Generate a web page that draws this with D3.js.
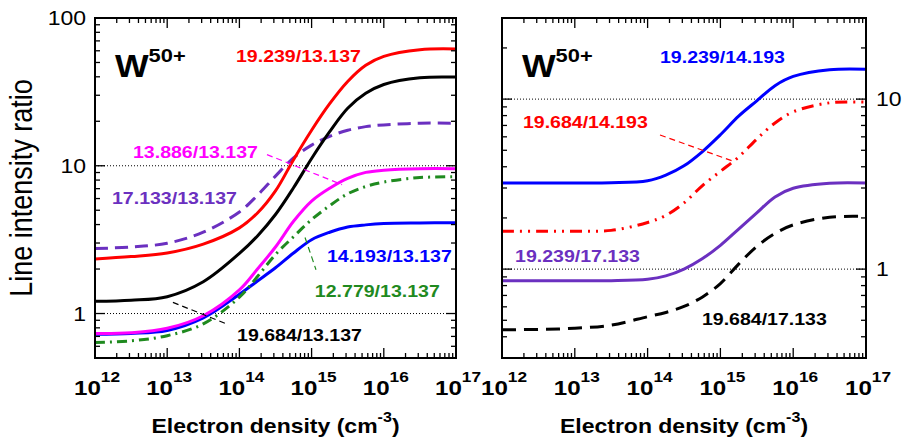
<!DOCTYPE html>
<html lang="en">
<head>
<meta charset="utf-8">
<title>W50+ line intensity ratios</title>
<script src="https://d3js.org/d3.v7.min.js"></script>
<style>
body { margin: 0; background: #fff; }
text { font-family: "Liberation Sans", Arial, Helvetica, sans-serif; fill: #000; }
</style>
</head>
<body>
<script>
// electron density grid (cm^-3), shared by every curve
var density = [1e12, 3.16e12, 1e13, 3.16e13, 1e14, 1.78e14, 3.16e14, 5.62e14, 1e15, 1.78e15, 3.16e15, 5.62e15, 1e16, 3.16e16, 1e17];

// left panel: ratios against the 13.137 line
var r19239_13137 = [2.34, 2.43, 2.57, 2.95, 3.80, 4.79, 6.76, 11.0, 17.4, 26.3, 37.2, 47.9, 55.0, 61.0, 61.7];
var r19684_13137 = [1.21, 1.23, 1.30, 1.64, 2.55, 3.35, 4.68, 7.1, 11.2, 17.0, 24.5, 30.9, 35.5, 39.4, 39.8];
var r17133_13137 = [2.75, 2.82, 2.99, 3.55, 4.87, 6.31, 8.51, 11.3, 13.8, 15.8, 17.4, 18.4, 18.9, 19.4, 19.4];
var r13886_13137 = [0.733, 0.741, 0.794, 0.966, 1.445, 2.0, 2.82, 4.21, 5.77, 7.05, 8.22, 9.02, 9.33, 9.55, 9.55];
var r12779_13137 = [0.637, 0.653, 0.708, 0.851, 1.29, 1.78, 2.51, 3.31, 4.32, 5.37, 6.46, 7.24, 7.76, 8.32, 8.43];
var r14193_13137 = [0.724, 0.733, 0.767, 0.933, 1.35, 1.66, 2.04, 2.57, 3.16, 3.55, 3.85, 3.98, 4.06, 4.10, 4.12];

// right panel: ratios against 14.193 and 17.133
var r19239_14193 = [3.21, 3.21, 3.21, 3.22, 3.31, 3.57, 4.05, 4.90, 6.17, 7.94, 9.77, 12.0, 13.6, 14.9, 15.0];
var r19684_14193 = [1.67, 1.67, 1.67, 1.69, 1.88, 2.07, 2.45, 3.09, 3.76, 4.57, 5.82, 7.24, 8.41, 9.51, 9.59];
var r19239_17133 = [0.855, 0.855, 0.855, 0.855, 0.871, 0.912, 1.0, 1.15, 1.38, 1.72, 2.14, 2.66, 2.99, 3.20, 3.21];
var r19684_17133 = [0.440, 0.442, 0.449, 0.468, 0.525, 0.556, 0.603, 0.684, 0.822, 1.07, 1.36, 1.62, 1.82, 2.02, 2.04];

// tick labels
var xTickExp = ["12", "13", "14", "15", "16", "17"];
var yTicksLeft = [1, 10, 100];
var yTicksRight = [1, 10];

var w = 904, h = 439;
var SX = 1.15; // text in the figure is a bit wide

var purple = "#6b30c0", green = "#1f8a1f";

var panels = [
  {
    range: [95, 456], yDomain: [0.5, 100], yTicks: yTicksLeft, labelSide: "left",
    series: [
      { v: r14193_13137, color: "blue", dash: null },
      { v: r12779_13137, color: green, dash: "10,5,2,5" },
      { v: r13886_13137, color: "#ff00ff", dash: null },
      { v: r17133_13137, color: purple, dash: "13,7" },
      { v: r19684_13137, color: "black", dash: null },
      { v: r19239_13137, color: "red", dash: null }
    ],
    labels: [
      { t: "19.239/13.137", color: "red", at: [8.97e13, 50.5] },
      { t: "13.886/13.137", color: "#ff00ff", at: [3.36e12, 11.3] },
      { t: "17.133/13.137", color: purple, at: [1.72e12, 5.53] },
      { t: "14.193/13.137", color: "blue", at: [1.63e15, 2.24] },
      { t: "12.779/13.137", color: green, at: [1.11e15, 1.30] },
      { t: "19.684/13.137", color: "black", at: [9.27e13, 0.647] }
    ],
    leaders: [
      { color: "#ff00ff", from: [2.41e14, 11.9], to: [2.64e15, 7.45] },
      { color: green, from: [8.11e14, 3.27], to: [1.15e15, 1.98] },
      { color: "black", from: [1.20e13, 1.19], to: [6.95e13, 0.843] }
    ],
    ion: [1.89e12, 39.9]
  },
  {
    range: [502, 866], yDomain: [0.3, 30], yTicks: yTicksRight, labelSide: "right",
    series: [
      { v: r19684_17133, color: "black", dash: "14,8" },
      { v: r19239_17133, color: purple, dash: null },
      { v: r19684_14193, color: "red", dash: "12,6,2,6,2,6" },
      { v: r19239_14193, color: "blue", dash: null }
    ],
    labels: [
      { t: "19.239/14.193", color: "blue", at: [1.48e14, 16.3] },
      { t: "19.684/14.193", color: "red", at: [1.94e12, 6.76] },
      { t: "19.239/17.133", color: purple, at: [1.51e12, 1.10] },
      { t: "19.684/17.133", color: "black", at: [5.58e14, 0.471] }
    ],
    leaders: [
      { color: "red", from: [1.48e14, 6.15], to: [1.44e15, 4.34] }
    ],
    ion: [1.88e12, 13.5]
  }
];

var svg = d3.select("body").append("svg")
  .attr("width", w)
  .attr("height", h);

var yTop = 18, yBottom = 358;

function addText(g, x, y, anchor, size, weight) {
  return g.append("text")
    .attr("transform", "translate(" + x + "," + y + ") scale(" + SX + ",1)")
    .attr("text-anchor", anchor)
    .style("font-size", size + "px")
    .style("font-weight", weight);
}

// minor tick values for a log domain
function minorTicks(lo, hi) {
  var out = [];
  for (var d = Math.floor(Math.log10(lo)); d <= Math.ceil(Math.log10(hi)); d++) {
    for (var m = 2; m <= 9; m++) {
      var v = m * Math.pow(10, d);
      if (v > lo * 1.0001 && v < hi * 0.9999) out.push(v);
    }
  }
  return out;
}

panels.forEach(function(p, pi) {
  var x = d3.scaleLog().domain([1e12, 1e17]).range(p.range);
  var y = d3.scaleLog().domain(p.yDomain).range([yBottom, yTop]);
  var g = svg.append("g");
  var x0 = p.range[0], x1 = p.range[1];

  // dotted lines at 1 and 10
  g.selectAll(".grid")
    .data([1, 10])
    .enter().append("line")
    .attr("x1", x0).attr("x2", x1)
    .attr("y1", function(d) { return y(d); })
    .attr("y2", function(d) { return y(d); })
    .attr("stroke", "black")
    .attr("stroke-width", 1)
    .attr("stroke-dasharray", "1,2");

  // clip for curves
  svg.append("clipPath").attr("id", "clip" + pi)
    .append("rect").attr("x", x0).attr("y", yTop).attr("width", x1 - x0).attr("height", yBottom - yTop);

  var line = d3.line()
    .x(function(d) { return x(d[0]); })
    .y(function(d) { return y(d[1]); })
    .curve(d3.curveCatmullRom.alpha(0.5));

  p.series.forEach(function(s) {
    g.append("path")
      .datum(d3.zip(density, s.v))
      .attr("clip-path", "url(#clip" + pi + ")")
      .attr("d", line)
      .attr("fill", "none")
      .attr("stroke", s.color)
      .attr("stroke-width", 3)
      .attr("stroke-dasharray", s.dash);
  });

  // leader lines
  p.leaders.forEach(function(l) {
    g.append("line")
      .attr("x1", x(l.from[0])).attr("y1", y(l.from[1]))
      .attr("x2", x(l.to[0])).attr("y2", y(l.to[1]))
      .attr("stroke", l.color)
      .attr("stroke-width", 1.2)
      .attr("stroke-dasharray", "6,4");
  });

  // ticks, inward on all four sides
  var xMajor = d3.range(12, 18).map(function(e) { return Math.pow(10, e); });
  var xMinor = minorTicks(1e12, 1e17);
  var yMajor = p.yTicks;
  var yMinor = minorTicks(p.yDomain[0], p.yDomain[1]);
  var ticks = g.append("g").attr("stroke", "black").attr("stroke-width", 1.3);
  xMajor.concat(xMinor).forEach(function(v) {
    var len = xMajor.indexOf(v) >= 0 ? 10 : 5;
    ticks.append("line").attr("x1", x(v)).attr("x2", x(v)).attr("y1", yBottom).attr("y2", yBottom - len);
    ticks.append("line").attr("x1", x(v)).attr("x2", x(v)).attr("y1", yTop).attr("y2", yTop + len);
  });
  yMajor.concat(yMinor).forEach(function(v) {
    var len = yMajor.indexOf(v) >= 0 ? 10 : 5;
    ticks.append("line").attr("y1", y(v)).attr("y2", y(v)).attr("x1", x0).attr("x2", x0 + len);
    ticks.append("line").attr("y1", y(v)).attr("y2", y(v)).attr("x1", x1).attr("x2", x1 - len);
  });

  // frame
  g.append("rect")
    .attr("x", x0).attr("y", yTop)
    .attr("width", x1 - x0).attr("height", yBottom - yTop)
    .attr("fill", "none")
    .attr("stroke", "black")
    .attr("stroke-width", 2);

  // x tick labels
  xTickExp.forEach(function(e) {
    var t = addText(g, x(Math.pow(10, +e)) + 2, 395, "middle", 21, "bold");
    t.append("tspan").text("10");
    t.append("tspan").attr("dy", -13).style("font-size", "15px").text(e);
  });

  // y tick labels
  yMajor.forEach(function(v) {
    if (p.labelSide == "left") {
      addText(g, 86, y(v) + 7, "end", 20, "normal").text(v);
    } else {
      addText(g, 876, y(v) + 7, "start", 20, "normal").text(v);
    }
  });

  // x axis title
  var xt = addText(g, (x0 + x1) / 2, 433, "middle", 20, "bold");
  xt.append("tspan").text("Electron density (cm");
  xt.append("tspan").attr("dy", -11).style("font-size", "14px").text("-3");
  xt.append("tspan").attr("dy", 11).text(")");

  // ion label
  var ion = addText(g, x(p.ion[0]), y(p.ion[1]), "start", 31, "bold");
  ion.append("tspan").text("W");
  ion.append("tspan").attr("dy", -15).style("font-size", "19px").text("50+");

  // curve labels
  p.labels.forEach(function(l) {
    addText(g, x(l.at[0]), y(l.at[1]), "start", 17, "bold")
      .style("fill", l.color)
      .text(l.t);
  });
});

// y axis title
svg.append("text")
  .attr("transform", "translate(32,188) rotate(-90) scale(1," + SX + ")")
  .attr("text-anchor", "middle")
  .style("font-size", "27px")
  .text("Line intensity ratio");
</script>
</body>
</html>
